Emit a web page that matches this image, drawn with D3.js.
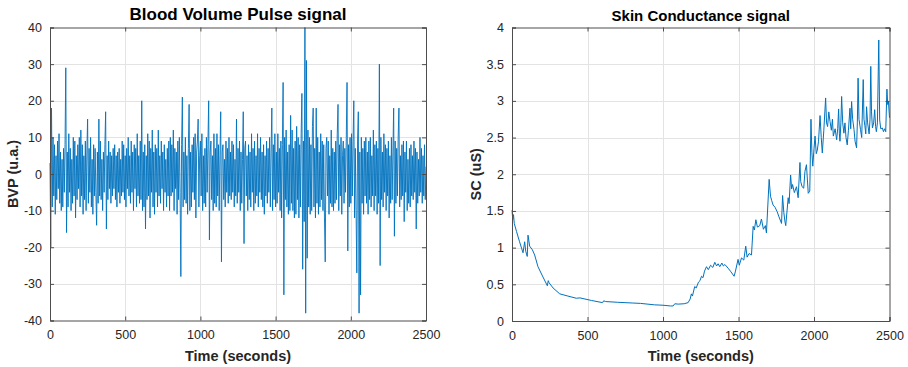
<!DOCTYPE html>
<html>
<head>
<meta charset="utf-8">
<script src="https://cdn.jsdelivr.net/npm/d3@7"></script>
<style>
  body { margin: 0; background: #fff; }
  svg { display: block; font-family: "Liberation Sans", Arial, sans-serif; }
</style>
</head>
<body>
<div id="chart"></div>
<script>
// BVP signal, one reading every 5 s
const bvpStep = 5;
const bvpValues = [
  3, -20, 18, -9, 10, -6, 8, -11, 5, -7, 9, -4, 11, -8, 6, -10, 4, -9, 7, -5,
  8, 29, -16, 6, -9, 11, -5, 7, -10, 4, -8, 10, -6, 9, -12, 5, -7, 8, -4, 10,
  -9, 12, -6, 8, -11, 5, -7, 9, -10, 6, 15, -8, 7, -5, 10, -9, 4, -11, 8, -6,
  7, -5, -14, 6, -8, 15, -6, 9, -7, 4, -10, 6, -5, 8, 17, -15, 5, -7, 9, -4,
  6, -8, 5, -6, 7, -4, 8, -7, 5, -9, 6, -5, 7, -8, 4, -6, 9, -5, 8, -7,
  5, -9, 7, -4, 10, -6, 5, -8, 9, -5, 6, -10, 8, -4, 7, -9, 11, -6, 5, -8,
  9, -7, 20, -10, 6, -9, 8, -15, 5, -7, 11, -6, 9, -12, 7, -5, 12, -9, 6, -11,
  8, -5, 7, -9, 12, -6, 5, -8, 9, -4, 6, -10, 8, -5, 4, -9, 7, -6, 9, -10,
  10, -6, 8, -5, 12, -10, 7, -4, 6, -11, 9, -7, 10, -5, -28, 8, 21, -9, 6, -7,
  10, -8, 5, -11, 7, 19, -10, 6, -9, 8, -5, 10, -7, 11, -12, 6, 9, 15, -9, 5,
  9, -6, 11, -10, 5, -8, 7, -9, 10, -5, 8, 20, -18, 6, 9, -7, 5, -10, 11, -8,
  7, -9, 11, -6, 8, -10, 5, 17, -24, 6, 8, -7, 4, -9, 9, -5, 7, -8, 10, -6,
  6, -7, 9, -5, 8, -9, 4, -6, 15, -8, 7, -5, 9, -10, 6, -8, 4, 17, -19, 7,
  9, -6, 5, -10, 8, -7, 6, -9, 11, -5, 7, -10, 9, -8, 5, -6, 11, -9, 7, -5,
  10, -7, 6, -9, 8, -11, 5, -6, 9, -8, 7, -5, 10, -9, 6, 18, -10, 8, -7, 11,
  -9, 6, -8, 11, -5, 7, -10, 9, -12, 8, 25, -33, 10, -7, 12, -9, 6, -11, 8, -10,
  16, -8, 12, -10, 7, -12, 9, -11, 13, -7, 10, -12, 8, -9, 11, 22, -26, 9, -13, 40,
  -38, 31, -23, 12, -9, 10, -11, 8, -10, 13, 18, -9, 7, -12, 18, -8, 10, -11, 6, -9,
  11, -7, 9, -10, 8, -12, -24, 7, 10, -6, 9, -11, 5, -8, 12, -9, 7, -10, 6, -8,
  9, -7, 11, 19, -10, 8, -6, 10, -11, 5, 9, -8, 7, -5, 10, 25, -21, 8, -9, 10,
  -8, 11, -6, 9, 20, -12, 7, -10, -27, 9, 17, -38, 6, -33, 10, -8, 7, -11, 9, -6,
  10, -8, 6, -11, 9, -7, 10, -9, 5, -6, 12, -10, 8, -6, 9, -11, 7, -8, 30, -25,
  10, -7, 6, -9, 11, -5, 8, -10, 7, -6, 9, -12, 5, -8, 10, -7, 6, 18, -17, 9,
  -8, 7, -6, 10, 18, -9, 5, -7, 8, -6, 9, -13, 6, -5, 9, -10, 4, -8, 7, -9,
  8, -6, 5, -7, 9, -5, 7, -15, 6, -8, 4, -6, 10, -5, 7, -8, 5, -6, 8, -7,
  2
];

// Skin conductance signal
const scTime = [
  0, 5, 10, 15, 30, 50, 73, 84, 91, 101, 106, 117, 135, 150, 172, 205, 234, 240, 246, 272,
  316, 370, 426, 450, 526, 600, 607, 620, 700, 800, 850, 945, 1000, 1050, 1067, 1078, 1100, 1140, 1166, 1180,
  1188, 1195, 1210, 1220, 1235, 1245, 1255, 1265, 1275, 1288, 1300, 1315, 1330, 1343, 1355, 1365, 1376, 1390, 1400, 1410,
  1431, 1450, 1471, 1480, 1497, 1505, 1520, 1535, 1548, 1557, 1570, 1586, 1597, 1605, 1615, 1625, 1641, 1652, 1665, 1678,
  1685, 1703, 1712, 1720, 1729, 1742, 1756, 1768, 1785, 1792, 1800, 1808, 1813, 1829, 1835, 1845, 1852, 1858, 1870, 1884,
  1895, 1907, 1912, 1921, 1932, 1940, 1950, 1962, 1972, 1980, 1986, 1992, 2000, 2007, 2015, 2022, 2030, 2040, 2048, 2055,
  2065, 2077, 2083, 2090, 2098, 2106, 2115, 2122, 2128, 2140, 2150, 2157, 2163, 2168, 2172, 2178, 2183, 2190, 2198, 2205,
  2212, 2220, 2228, 2238, 2243, 2249, 2256, 2265, 2272, 2282, 2287, 2292, 2298, 2308, 2316, 2326, 2331, 2337, 2343, 2348,
  2355, 2365, 2371, 2376, 2381, 2387, 2395, 2402, 2408, 2413, 2420, 2429, 2435, 2442, 2453, 2460, 2468, 2475, 2483, 2488,
  2493, 2500
];
const scValues = [
  1.51, 1.38, 1.45, 1.33, 1.22, 1.08, 0.93, 1.08, 0.95, 0.88, 1.17, 1.02, 0.97, 0.90, 0.74, 0.60, 0.48, 0.55, 0.52, 0.45,
  0.37, 0.34, 0.31, 0.315, 0.28, 0.25, 0.275, 0.265, 0.255, 0.245, 0.24, 0.22, 0.215, 0.205, 0.205, 0.235, 0.23, 0.235, 0.25, 0.30,
  0.37, 0.34, 0.47, 0.45, 0.53, 0.55, 0.61, 0.59, 0.68, 0.74, 0.70, 0.76, 0.73, 0.80, 0.75, 0.78, 0.74, 0.79, 0.75, 0.77,
  0.72, 0.67, 0.61, 0.68, 0.84, 0.76, 0.86, 0.83, 1.02, 0.87, 0.92, 0.90, 1.29, 1.24, 1.38, 1.28, 1.30, 1.39, 1.25, 1.30,
  1.20, 1.93, 1.70, 1.64, 1.58, 1.55, 1.49, 1.42, 1.33, 1.71, 1.48, 1.35, 1.30, 1.68, 1.60, 1.99, 1.80, 1.86, 1.75, 1.83,
  1.68, 2.16, 1.90, 1.83, 1.81, 2.04, 2.13, 1.74, 1.77, 2.75, 2.30, 2.11, 2.35, 2.52, 2.28, 2.33, 2.45, 2.80, 2.50, 2.29,
  2.60, 3.04, 2.70, 2.65, 2.85, 2.72, 2.60, 2.75, 2.52, 2.62, 2.47, 2.62, 2.89, 2.55, 2.45, 2.70, 3.06, 2.70, 2.56, 2.70,
  2.50, 2.40, 2.60, 2.90, 2.62, 2.99, 2.75, 2.61, 2.45, 2.36, 2.70, 3.31, 2.75, 2.61, 2.50, 3.29, 2.75, 2.66, 2.55, 2.92,
  2.70, 2.55, 2.75, 3.47, 2.85, 2.63, 2.70, 2.88, 2.65, 2.58, 2.70, 3.83, 2.74, 2.62, 2.63, 2.58, 2.62, 2.58, 3.16, 2.95,
  2.99, 2.77
];

const timeTicks = [0, 500, 1000, 1500, 2000, 2500];
const bvpTicks = [-40, -30, -20, -10, 0, 10, 20, 30, 40];
const scTicks = [0, 0.5, 1, 1.5, 2, 2.5, 3, 3.5, 4];

const W = 908, H = 367;
const svg = d3.select('#chart').append('svg').attr('width', W).attr('height', H);

function drawPanel(opts) {
  const { left, right, top, bottom, yDomain, yTicks, points, lineWidth, title, titleSize, titleY, yLabel, yLabelX } = opts;

  const x = d3.scaleLinear().domain([0, 2500]).range([left, right]);
  const y = d3.scaleLinear().domain(yDomain).range([bottom, top]);
  const g = svg.append('g');

  // grid
  g.append('g').selectAll('line').data(timeTicks.slice(1, -1)).join('line')
    .attr('x1', d => Math.round(x(d)) + 0.5).attr('x2', d => Math.round(x(d)) + 0.5)
    .attr('y1', top).attr('y2', bottom)
    .attr('stroke', '#e3e3e3').attr('stroke-width', 1);
  g.append('g').selectAll('line').data(yTicks.slice(1, -1)).join('line')
    .attr('y1', d => Math.round(y(d)) + 0.5).attr('y2', d => Math.round(y(d)) + 0.5)
    .attr('x1', left).attr('x2', right)
    .attr('stroke', '#e3e3e3').attr('stroke-width', 1);

  // signal
  const line = d3.line().x(d => x(d[0])).y(d => y(d[1]));
  g.append('path')
    .datum(points)
    .attr('d', line)
    .attr('fill', 'none')
    .attr('stroke', '#0072BD')
    .attr('stroke-width', lineWidth)
    .attr('stroke-linejoin', 'bevel');

  // axes, ticks inside on all four sides
  const tick = 4;
  const axisColor = '#4d4d4d';
  g.append('g').attr('transform', `translate(0,${bottom})`)
    .call(d3.axisBottom(x).tickValues(timeTicks).tickSize(-tick).tickPadding(10).tickFormat(d3.format('d')));
  g.append('g').attr('transform', `translate(0,${top})`)
    .call(d3.axisTop(x).tickValues(timeTicks).tickSize(-tick).tickFormat(''));
  g.append('g').attr('transform', `translate(${left},0)`)
    .call(d3.axisLeft(y).tickValues(yTicks).tickSize(-tick).tickPadding(8).tickFormat(d => String(d)));
  g.append('g').attr('transform', `translate(${right},0)`)
    .call(d3.axisRight(y).tickValues(yTicks).tickSize(-tick).tickFormat(''));

  g.selectAll('.domain').attr('stroke', axisColor);
  g.selectAll('.tick line').attr('stroke', axisColor);
  g.selectAll('.tick text')
    .attr('fill', '#262626')
    .style('font-size', '12.5px')
    .style('font-family', '"Liberation Sans", Arial, sans-serif');

  // title and labels
  g.append('text')
    .attr('x', (left + right) / 2).attr('y', titleY)
    .attr('text-anchor', 'middle')
    .attr('font-weight', 'bold').attr('font-size', titleSize)
    .attr('fill', '#000')
    .text(title);
  g.append('text')
    .attr('x', (left + right) / 2).attr('y', 361)
    .attr('text-anchor', 'middle')
    .attr('font-weight', 'bold').attr('font-size', 14.5)
    .attr('fill', '#262626')
    .text('Time (seconds)');
  g.append('text')
    .attr('transform', `translate(${yLabelX},${(top + bottom) / 2}) rotate(-90)`)
    .attr('text-anchor', 'middle')
    .attr('font-weight', 'bold').attr('font-size', 14.5)
    .attr('fill', '#262626')
    .text(yLabel);
}

drawPanel({
  left: 50, right: 426, top: 27.5, bottom: 320.5,
  yDomain: [-40, 40], yTicks: bvpTicks,
  points: bvpValues.map((v, i) => [i * bvpStep, v]),
  lineWidth: 0.9,
  title: 'Blood Volume Pulse signal', titleSize: 17, titleY: 19.5,
  yLabel: 'BVP (u.a.)', yLabelX: 18
});

drawPanel({
  left: 512, right: 889.5, top: 27.5, bottom: 321,
  yDomain: [0, 4], yTicks: scTicks,
  points: scTime.map((t, i) => [t, scValues[i]]),
  lineWidth: 1,
  title: 'Skin Conductance signal', titleSize: 15, titleY: 21,
  yLabel: 'SC (uS)', yLabelX: 480.5
});
</script>
</body>
</html>
